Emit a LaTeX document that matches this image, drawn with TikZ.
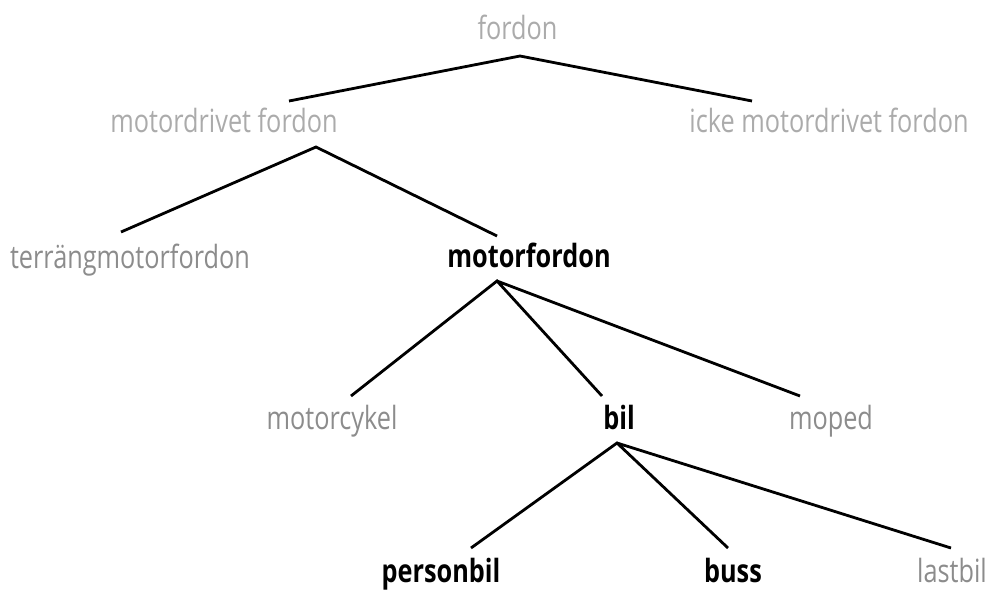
\documentclass[tikz,border=0pt]{standalone}
\usepackage{fontspec}
\setmainfont{Open Sans}[FakeStretch=0.79]
\definecolor{lightgrey}{HTML}{ABABAB}
\definecolor{midgrey}{HTML}{8C8C8C}
\begin{document}
\begin{tikzpicture}[x=1pt,y=-1pt,
  term/.style={anchor=base,inner sep=0pt,font=\fontsize{32}{36}\selectfont},
  faint/.style={term,text=lightgrey},
  dim/.style={term,text=midgrey},
  key/.style={term,text=black,font=\fontsize{32}{36}\selectfont\bfseries},
  branch/.style={draw=black,line width=2.8pt}]
\useasboundingbox (0,0) rectangle (1007,590);

% labels
\node[faint] (fordon) at (517.5,39) {fordon};
\node[faint] (motordrivet) at (224,132) {motordrivet fordon};
\node[faint] (icke) at (829,132) {icke motordrivet fordon};
\node[dim] (terrang) at (130,268) {terrängmotorfordon};
\node[key] (motorfordon) at (529,267) {motorfordon};
\node[dim] (motorcykel) at (332,429) {motorcykel};
\node[key] (bil) at (619,429) {bil};
\node[dim] (moped) at (831,429) {moped};
\node[key] (personbil) at (441,582) {personbil};
\node[key] (buss) at (733,582) {buss};
\node[dim] (lastbil) at (952,582) {lastbil};

% branch points
\coordinate (f0) at (520,56);
\coordinate (f1) at (289,101);
\coordinate (f2) at (752,101);
\coordinate (m0) at (316,147);
\coordinate (m1) at (121,232);
\coordinate (m2) at (497,236);
\coordinate (v0) at (497,281);
\coordinate (v1) at (351,396);
\coordinate (v2) at (602,396);
\coordinate (v3) at (800,396);
\coordinate (b0) at (617,443);
\coordinate (b1) at (471,548);
\coordinate (b2) at (728,548);
\coordinate (b3) at (951,548);

\draw[branch] (f1) -- (f0) -- (f2);
\draw[branch] (m1) -- (m0) -- (m2);
\draw[branch] (v1) -- (v0) -- (v2) (v0) -- (v3);
\draw[branch] (b1) -- (b0) -- (b2) (b0) -- (b3);
\end{tikzpicture}
\end{document}
